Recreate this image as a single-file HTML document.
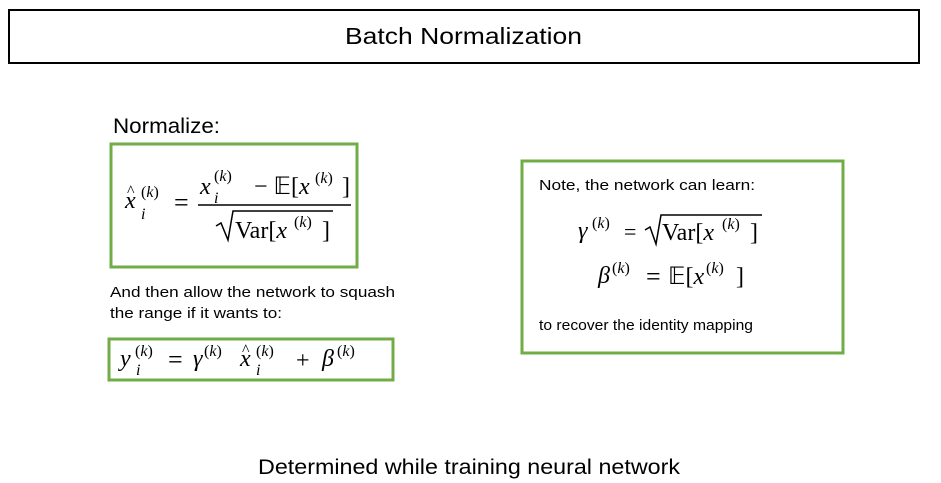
<!DOCTYPE html>
<html><head><meta charset="utf-8"><style>
html,body{margin:0;padding:0;background:#fff;}
svg{display:block;}
.s{font-family:"Liberation Sans",sans-serif;fill:#000;}
.m{font-family:"Liberation Serif",serif;font-style:italic;fill:#000;}
.r{font-family:"Liberation Serif",serif;fill:#000;}
</style></head><body>
<svg width="941" height="483" viewBox="0 0 941 483" xmlns="http://www.w3.org/2000/svg">
<rect x="9" y="10" width="910" height="53" fill="none" stroke="#000" stroke-width="2"/>
<text class="s" x="345" y="44" font-size="23" textLength="237" lengthAdjust="spacingAndGlyphs">Batch Normalization</text>

<text class="s" x="113" y="133" font-size="21" textLength="107" lengthAdjust="spacingAndGlyphs">Normalize:</text>
<rect x="111" y="144" width="246" height="123" fill="none" stroke="#70AD47" stroke-width="3"/>
<!-- x hat -->
<text class="m" x="125" y="208" font-size="24">x</text>
<text class="r" x="127" y="196" font-size="16">^</text>
<text class="r" x="141" y="197" font-size="16">(<tspan class="m">k</tspan>)</text>
<text class="m" x="141" y="219" font-size="16">i</text>
<text class="r" x="174" y="211" font-size="26">=</text>
<!-- numerator -->
<text class="m" x="200" y="194" font-size="24">x</text>
<text class="r" x="214" y="181" font-size="16">(<tspan class="m">k</tspan>)</text>
<text class="m" x="214" y="203" font-size="16">i</text>
<text class="r" x="254" y="194" font-size="24">− 𝔼[<tspan class="m">x</tspan></text>
<text class="r" x="315" y="183" font-size="16">(<tspan class="m">k</tspan>)</text>
<text class="r" x="342" y="194" font-size="24">]</text>
<line x1="198" y1="205" x2="351" y2="205" stroke="#000" stroke-width="1.5"/>
<!-- denominator -->
<polyline points="216,226 221,223 228,240 233,211 333,211" fill="none" stroke="#000" stroke-width="1.5"/>
<text class="r" x="235" y="238" font-size="24">Var[<tspan class="m">x</tspan></text>
<text class="r" x="294" y="227" font-size="16">(<tspan class="m">k</tspan>)</text>
<text class="r" x="322" y="238" font-size="24">]</text>

<text class="s" x="110" y="297" font-size="15" textLength="285" lengthAdjust="spacingAndGlyphs">And then allow the network to squash</text>
<text class="s" x="110" y="318" font-size="15" textLength="172" lengthAdjust="spacingAndGlyphs">the range if it wants to:</text>

<rect x="109" y="339" width="284" height="41" fill="none" stroke="#70AD47" stroke-width="3"/>
<text class="m" x="120" y="366" font-size="24">y</text>
<text class="r" x="135" y="356" font-size="16">(<tspan class="m">k</tspan>)</text>
<text class="m" x="136" y="375" font-size="16">i</text>
<text class="r" x="168" y="368" font-size="26">=</text>
<text class="m" x="193" y="366" font-size="24">γ</text>
<text class="r" x="204" y="356" font-size="16">(<tspan class="m">k</tspan>)</text>
<text class="m" x="240" y="366" font-size="24">x</text>
<text class="r" x="242" y="355" font-size="16">^</text>
<text class="r" x="256" y="356" font-size="16">(<tspan class="m">k</tspan>)</text>
<text class="m" x="256" y="375" font-size="16">i</text>
<text class="r" x="296" y="368" font-size="24">+</text>
<text class="m" x="322" y="366" font-size="24">β</text>
<text class="r" x="337" y="356" font-size="16">(<tspan class="m">k</tspan>)</text>

<rect x="522" y="161" width="321" height="192" fill="none" stroke="#70AD47" stroke-width="3"/>
<text class="s" x="539" y="190" font-size="15" textLength="216" lengthAdjust="spacingAndGlyphs">Note, the network can learn:</text>
<text class="m" x="578" y="238" font-size="24">γ</text>
<text class="r" x="592" y="228" font-size="16">(<tspan class="m">k</tspan>)</text>
<text class="r" x="624" y="239" font-size="22">=</text>
<polyline points="645,230 650,227 656,244 661,215 762,215" fill="none" stroke="#000" stroke-width="1.5"/>
<text class="r" x="662" y="240" font-size="24">Var[<tspan class="m">x</tspan></text>
<text class="r" x="722" y="229" font-size="16">(<tspan class="m">k</tspan>)</text>
<text class="r" x="750" y="240" font-size="24">]</text>

<text class="m" x="598" y="283" font-size="24">β</text>
<text class="r" x="612" y="273" font-size="16">(<tspan class="m">k</tspan>)</text>
<text class="r" x="646" y="285" font-size="26">=</text>
<text class="r" x="668" y="284" font-size="24">𝔼[<tspan class="m">x</tspan></text>
<text class="r" x="706" y="273" font-size="16">(<tspan class="m">k</tspan>)</text>
<text class="r" x="736" y="284" font-size="24">]</text>
<text class="s" x="539" y="330" font-size="15" textLength="214" lengthAdjust="spacingAndGlyphs">to recover the identity mapping</text>

<text class="s" x="258" y="474" font-size="21" textLength="422" lengthAdjust="spacingAndGlyphs">Determined while training neural network</text>
</svg>
</body></html>
